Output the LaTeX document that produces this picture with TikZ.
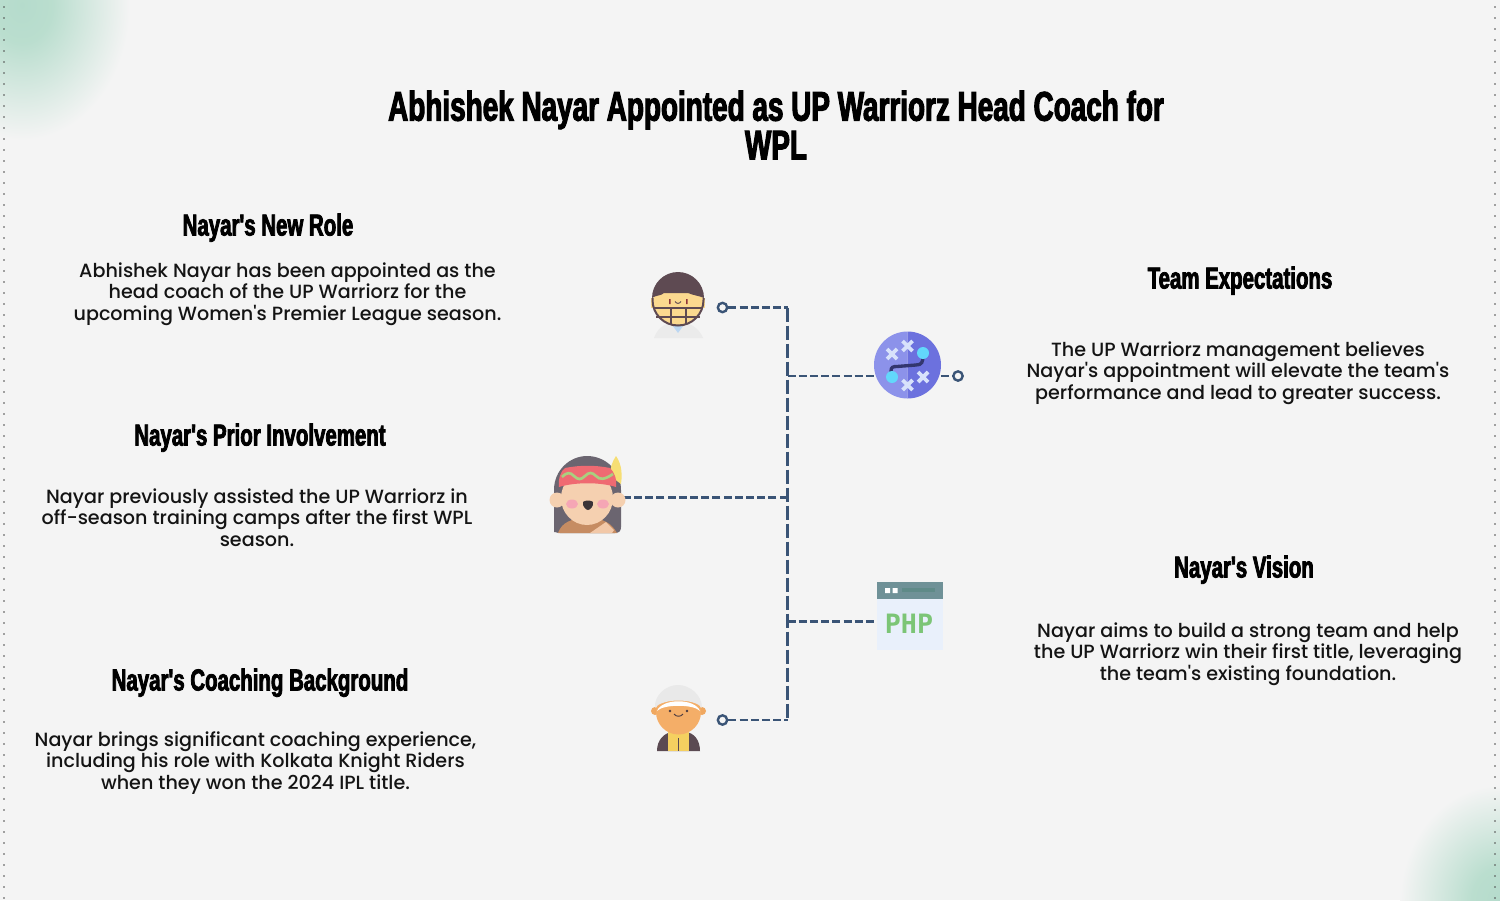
\documentclass[tikz,border=0pt]{standalone}
\usepackage{fontspec}
\setmainfont{Poppins}
\newfontfamily\bodyf[Ligatures=ResetAll]{Poppins Medium}
\newfontfamily\headf[FakeStretch=0.675,FakeBold=2.6,Ligatures=ResetAll]{Liberation Sans Bold}
\newfontfamily\phpf{DejaVu Sans Mono Bold}
\definecolor{bgc}{HTML}{F4F4F4}
\definecolor{linec}{HTML}{3A5476}
\definecolor{helmet}{HTML}{5E4A52}
\definecolor{skinA}{HTML}{FBD98F}
\definecolor{xcol}{HTML}{D8E2FB}
\definecolor{dotb}{HTML}{62D8FB}
\definecolor{hairc}{HTML}{6B6570}
\definecolor{peach}{HTML}{F5D0B0}
\definecolor{collar}{HTML}{BCD7F2}
\definecolor{stratL}{HTML}{8C92EA}
\definecolor{stratR}{HTML}{6C71DE}
\definecolor{stratP}{HTML}{33366F}
\definecolor{feather}{HTML}{F6DE74}
\definecolor{robe}{HTML}{C68C62}
\definecolor{armc}{HTML}{F2C8A8}
\definecolor{bandc}{HTML}{EF6A72}
\definecolor{wavec}{HTML}{A9D07F}
\definecolor{cheek}{HTML}{F5A6B5}
\definecolor{mouthc}{HTML}{3A3438}
\definecolor{winbg}{HTML}{E9F0FB}
\definecolor{winhd}{HTML}{6F9197}
\definecolor{winbar}{HTML}{5F8A88}
\definecolor{phpg}{HTML}{7CC576}
\definecolor{coat}{HTML}{5B4A52}
\definecolor{vest}{HTML}{F5D060}
\definecolor{skinB}{HTML}{F0A860}
\definecolor{skinC}{HTML}{F4AE68}
\definecolor{capc}{HTML}{E9E9E9}
\definecolor{eyec}{HTML}{4A3A40}
\pgfdeclareradialshading{cornerglow}{\pgfpoint{0bp}{0bp}}{rgb(0bp)=(0.71,0.86,0.80);rgb(7bp)=(0.73,0.87,0.81);rgb(25bp)=(0.957,0.957,0.957);rgb(50bp)=(0.957,0.957,0.957)}
\tikzset{
  x=0.75pt,y=-0.75pt,
  titlet/.style={font=\headf\fontsize{31pt}{29pt}\selectfont,align=center,text=black,inner sep=0},
  headt/.style={font=\headf\fontsize{22.7pt}{24pt}\selectfont,align=center,text=black,inner sep=0},
  bodyt/.style={font=\bodyf\fontsize{14.35pt}{16.3pt}\selectfont,align=center,text=black!92,inner sep=0},
  conn/.style={draw=linec,line width=1.7pt,dash pattern=on 6pt off 2.4pt},
  connv/.style={draw=linec,line width=1.7pt,dash pattern=on 11pt off 2.5pt},
  endc/.style={circle,draw=linec,line width=1.8pt,fill=bgc,minimum size=7pt,inner sep=0},
  iconb/.style={inner sep=0,minimum width=#1*0.75pt,minimum height=#1*0.75pt},
  xm/.style={draw=xcol,line width=2.9pt},
}
\begin{document}
\begin{tikzpicture}
\useasboundingbox (0,0) rectangle (1500,900);
\fill[bgc] (0,0) rectangle (1500,900);
\begin{scope}
\clip (0,0) rectangle (1500,900);
\shade[shading=cornerglow] (22,5) ellipse (108 and 135);
\shade[shading=cornerglow] (1500,900) ellipse (100 and 115);
\end{scope}
\foreach \n in {0,...,81} {
  \fill[black!70] (4,7+\n*11) circle (0.9);
  \fill[black!70] (1495,7+\n*11) circle (0.9);
}
% Title
\node[titlet] (title) at (776,125) {Abhishek Nayar Appointed as UP Warriorz Head Coach for\\WPL};
% Left texts
\node[headt] (h1) at (268,227.7) {Nayar's New Role};
\node[bodyt] (b1) at (287.5,294) {Abhishek Nayar has been appointed as the\\head coach of the UP Warriorz for the\\upcoming Women's Premier League season.};
\node[headt] (h2) at (260,437.7) {Nayar's Prior Involvement};
\node[bodyt] (b2) at (257,517.5) {Nayar previously assisted the UP Warriorz in\\off-season training camps after the first WPL\\season.};
\node[headt] (h3) at (260,682.7) {Nayar's Coaching Background};
\node[bodyt] (b3) at (255.5,763) {Nayar brings significant coaching experience,\\including his role with Kolkata Knight Riders\\when they won the 2024 IPL title.};
% Right texts
\node[headt] (h4) at (1240,280.7) {Team Expectations};
\node[bodyt] (b4) at (1238,373) {The UP Warriorz management believes\\Nayar's appointment will elevate the team's\\performance and lead to greater success.};
\node[headt] (h5) at (1244,569.7) {Nayar's Vision};
\node[bodyt] (b5) at (1248,654) {Nayar aims to build a strong team and help\\the UP Warriorz win their first title, leveraging\\the team's existing foundation.};
% Icon holders
\node[iconb=66] (strategy) at (907.5,365) {};
\node[iconb=68] (girl) at (588,496) {};
\node[iconb=68] (php) at (910,616) {};
% Connector ends and junctions
\node[endc] (e1) at (722.5,307.5) {};
\node[endc] (e2) at (722.5,720) {};
\node[endc] (e3) at (958,376) {};
\coordinate (jt) at (787.5,307.5);
\coordinate (jb) at (787.5,720);
\coordinate (j1) at (787.5,376);
\coordinate (j2) at (787.5,497.5);
\coordinate (j3) at (787.5,621.5);
\coordinate (sr) at (strategy.east |- e3);
\coordinate (sl) at (strategy.west |- e3);
\coordinate (gr) at (girl.east |- j2);
\coordinate (pl) at (php.west |- j3);
\draw[conn] (e1) -- (jt);
\draw[connv] (jt) -- (jb);
\draw[conn] (e2) -- (jb);
\draw[conn] (j1) -- (sl);
\draw[conn] (sr) -- (e3);
\draw[conn] (j2) -- (gr);
\draw[conn] (j3) -- (pl);
% Helmet icon
\fill[black!8] (654,338) .. controls (658,326) and (668,322) .. (678,322) .. controls (690,322) and (699,328) .. (703,338) -- cycle;
\fill[collar] (670,322) -- (686,322) -- (678,333) -- cycle;
\fill[skinA] (651,298) rectangle (705,308);
\fill[skinA] (678,300) circle (25);
\fill[helmet] (652,298) arc (180:360:26) .. controls (700,296) and (692,295) .. (688,293) -- (664,293) .. controls (661,296) and (656,295) .. cycle;
\draw[helmet,line width=1.5pt] (652.5,298) -- (652.5,300) arc (180:0:25.5) -- (703.5,298);
\draw[helmet,line width=1.2pt] (653,308) -- (703,308) (656,317) -- (700,317) (671,308) -- (671,325) (686,308) -- (686,325);
\fill[helmet!70!red] (669,299) rectangle (670.5,304) (686,299) rectangle (687.5,304);
\draw[helmet,line width=.7pt] (675,301.5) .. controls (677,304) and (679,304) .. (681,301.5);
% Strategy icon
\fill[stratL] (907.5,331.5) arc (-90:-270:33.5) -- cycle;
\fill[stratR] (907.5,331.5) arc (-90:90:33.5) -- cycle;
\foreach \cx/\cy in {892/354,907.5/346,923/377,907.5/385} {
  \draw[xm] (\cx-5,\cy-5) -- (\cx+5,\cy+5) (\cx-5,\cy+5) -- (\cx+5,\cy-5);
}
\draw[stratP,line width=2.5pt] (891,374) -- (891,371) .. controls (891,367) and (893,366.5) .. (897,366.5) -- (916,365) .. controls (922,365) and (923,362) .. (923,355);
\fill[dotb] (892,377) circle (6) (923,353) circle (6);
% Girl icon
\fill[hairc] (554,532) -- (554,490) .. controls (554,470) and (570,456) .. (587,456) .. controls (605,456) and (621,470) .. (621,490) -- (621,527) .. controls (621,531) and (619,533) .. (615,533) -- (560,533) .. controls (556,533) and (554,531) .. cycle;
\fill[feather] (610,476) .. controls (610,468) and (612,462) .. (616,456) .. controls (620,462) and (623,470) .. (621,484) -- (613,478) -- cycle;
\fill[robe] (558,533) .. controls (562,522) and (572,518) .. (588,518) .. controls (604,518) and (612,524) .. (617,533) -- cycle;
\fill[armc] (590,533) -- (606,522) -- (614,530) -- (612,533) -- cycle;
\fill[peach] (557,500) circle (7.5) (618,500) circle (7.5);
\fill[peach] (587,498) ellipse (26 and 27);
\fill[bandc] (559,487) .. controls (558,478) and (561,471) .. (565,468) .. controls (580,465) and (595,465) .. (610,468) .. controls (614,472) and (617,478) .. (616,487) .. controls (600,482) and (575,482) .. cycle;
\draw[wavec,line width=2pt] (562,477) .. controls (567,472) and (570,472) .. (574,476) .. controls (578,480) and (581,480) .. (585,476) .. controls (589,472) and (592,472) .. (596,476) .. controls (600,480) and (604,480) .. (613,474);
\fill[cheek] (572,504) ellipse (6 and 4.5) (603,504) ellipse (6 and 4.5);
\fill[mouthc] (583,502) .. controls (585,500) and (591,500) .. (593,502) .. controls (594,506) and (590,510) .. (588,510) .. controls (586,510) and (582,506) .. cycle;
% PHP icon
\fill[winbg] (877,582) rectangle (943,650);
\fill[winhd] (877,582) rectangle (943,599);
\fill[white] (885,588) rectangle (890,593) (892.5,588) rectangle (897.5,593);
\fill[winbar] (902,588) rectangle (935,592);
\node[font=\phpf\fontsize{20pt}{20pt}\selectfont,text=phpg,inner sep=0] (phptext) at (909,624) {PHP};
% Man icon
\fill[coat] (657,751) .. controls (657,740) and (664,733) .. (672,732) -- (686,732) .. controls (694,733) and (700,740) .. (700,751) -- cycle;
\fill[vest] (668,751) -- (668,732) -- (689,732) -- (689,751) -- cycle;
\draw[coat,line width=1pt] (678.5,738) -- (678.5,751);
\fill[skinB] (655,711) circle (4) (702,711) circle (4);
\fill[skinC] (678.5,712) circle (22.5);
\fill[capc] (655,708) .. controls (654,695) and (666,685) .. (678,685) .. controls (690,685) and (702,695) .. (702,708) .. controls (695,698) and (662,698) .. cycle;
\fill[white] (657,711) .. controls (662,698) and (695,698) .. (700,711) .. controls (694,704) and (663,704) .. cycle;
\fill[eyec] (670,711) circle (1.3) (687,711) circle (1.3);
\draw[eyec,line width=.7pt] (674,714) .. controls (676,717) and (681,717) .. (683,714);
\end{tikzpicture}
\end{document}
